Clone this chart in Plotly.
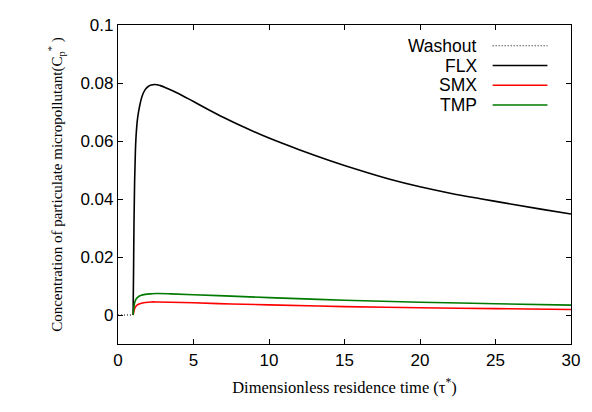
import plotly.graph_objects as go

# ---- data ----
washout_t = [0.0, 1.0]
washout_c = [0.0, 0.0]

flx_t = [1.0, 1.03, 1.06, 1.10, 1.15, 1.20, 1.30, 1.45, 1.6, 1.8, 2.0, 2.2, 2.45, 2.8, 3.2,
         4.0, 5.0, 6.0, 7.0, 8.0, 10.0, 12.0, 14.0, 16.0, 18.0, 20.0, 22.0, 24.0, 26.0, 28.0, 30.0]
flx_c = [0.0, 0.015, 0.032, 0.046, 0.056, 0.062, 0.068, 0.0725, 0.0755, 0.0777, 0.0788, 0.0793, 0.0795, 0.0791, 0.0783,
         0.0764, 0.0736, 0.0708, 0.0681, 0.0656, 0.0610, 0.0570, 0.0533, 0.0499, 0.0468, 0.0442, 0.0420, 0.0401, 0.0383, 0.0365, 0.0348]

smx_t = [1.0, 1.05, 1.1, 1.2, 1.35, 1.5, 1.8, 2.2, 2.6, 3.5, 5.0, 7.5, 10.0, 15.0, 20.0, 25.0, 30.0]
smx_c = [0.0, 0.0012, 0.0022, 0.0031, 0.0037, 0.0040, 0.0043, 0.0045, 0.0045, 0.0044, 0.0042, 0.0038, 0.0035, 0.0029, 0.0025, 0.0022, 0.0019]

tmp_t = [1.0, 1.05, 1.1, 1.2, 1.35, 1.5, 1.8, 2.2, 2.6, 3.5, 5.0, 7.5, 10.0, 15.0, 20.0, 25.0, 30.0]
tmp_c = [0.0, 0.0025, 0.0042, 0.0055, 0.0063, 0.0067, 0.0071, 0.0073, 0.0074, 0.0073, 0.0070, 0.0065, 0.0060, 0.0051, 0.0044, 0.0039, 0.0034]

x_ticks = [0, 5, 10, 15, 20, 25, 30]
y_ticks = [0, 0.02, 0.04, 0.06, 0.08, 0.1]
y_tick_text = ["0", "0.02", "0.04", "0.06", "0.08", "0.1"]

series_names = ["Washout", "FLX", "SMX", "TMP"]
series_colors = ["black", "black", "#ff0000", "#007a00"]
series_dash = ["1px,2px", "solid", "solid", "solid"]

fig = go.Figure()
data = [(washout_t, washout_c), (flx_t, flx_c), (smx_t, smx_c), (tmp_t, tmp_c)]
for (t, c), name, col, dash in zip(data, series_names, series_colors, series_dash):
    fig.add_trace(go.Scatter(x=t, y=c, mode="lines", name=name,
                             line=dict(color=col, width=1.2 if dash != "solid" else 1.6, dash=dash),
                             line_shape="spline", showlegend=False))

# gnuplot-style legend: right-aligned text with line samples on the right
leg_y = [0.935, 0.873, 0.811, 0.749]
for name, col, dash, yy in zip(series_names, series_colors, series_dash, leg_y):
    fig.add_annotation(xref="paper", yref="paper", x=0.797, y=yy, text=name, showarrow=False,
                       xanchor="right", yanchor="middle",
                       font=dict(family="Liberation Sans, Arial, sans-serif", size=17.5, color="black"))
    fig.add_shape(type="line", xref="paper", yref="paper", x0=0.827, x1=0.948, y0=yy, y1=yy,
                  line=dict(color=col, width=1.2 if dash != "solid" else 1.6, dash=dash))

axis_common = dict(showline=True, linecolor="black", linewidth=1.2, mirror="ticks",
                   ticks="inside", ticklen=5, tickcolor="black", tickwidth=1,
                   showgrid=False, zeroline=False,
                   tickfont=dict(family="Liberation Sans, Arial, sans-serif", size=17, color="black"))

fig.update_xaxes(range=[0, 30], tickvals=x_ticks, ticktext=[str(v) for v in x_ticks],
                 title=dict(text="Dimensionless residence time (τ<sup>*</sup>)", standoff=12,
                            font=dict(family="Liberation Serif, Times New Roman, serif", size=16.5, color="black")),
                 **axis_common)
fig.update_yaxes(range=[-0.01, 0.1], tickvals=y_ticks, ticktext=y_tick_text,
                 title=dict(text="Concentration of particulate micropollutant(C<sub>p</sub><sup>*</sup> )", standoff=14,
                            font=dict(family="Liberation Serif, Times New Roman, serif", size=15, color="black")),
                 **axis_common)

fig.update_layout(width=592, height=412, margin=dict(l=118, r=16, t=25, b=68),
                  plot_bgcolor="white", paper_bgcolor="white")

fig.write_html("out.html")
